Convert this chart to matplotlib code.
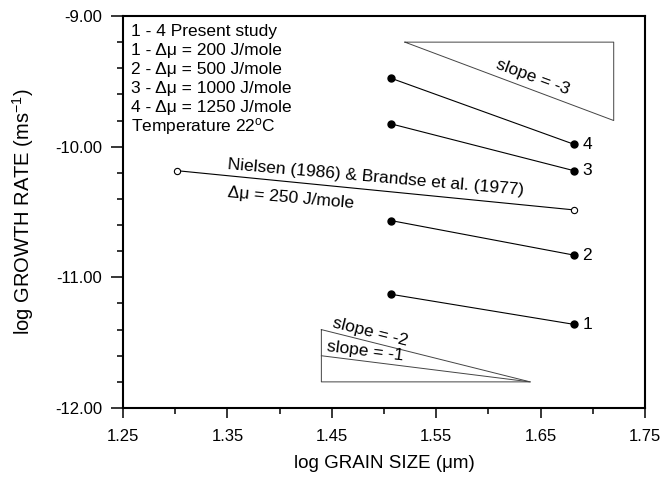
import matplotlib
matplotlib.use("Agg")
import matplotlib.pyplot as plt
from matplotlib.ticker import MultipleLocator, FixedLocator

plt.rcParams['font.family'] = ['Liberation Sans', 'DejaVu Sans']
plt.rcParams['mathtext.fontset'] = 'custom'
plt.rcParams['mathtext.rm'] = 'Liberation Sans'
plt.rcParams['mathtext.it'] = 'Liberation Sans:italic'

# log grain size (um) at the two measured sizes
grain_size = [1.507, 1.682]
# log growth rate for each driving force
rate_1 = [-11.13, -11.36]   # 200 J/mole
rate_2 = [-10.566, -10.83]  # 500 J/mole
rate_3 = [-9.826, -10.184]  # 1000 J/mole
rate_4 = [-9.477, -9.982]   # 1250 J/mole
series_labels = ["1", "2", "3", "4"]

# literature line (Nielsen 1986, Brandse et al. 1977)
lit_size = [1.302, 1.682]
lit_rate = [-10.184, -10.484]

# slope reference triangles
tri3_x = [1.52, 1.72, 1.72, 1.52]
tri3_y = [-9.2, -9.2, -9.8, -9.2]
tri12_x = [1.44, 1.44, 1.64, 1.44]
tri12_y = [-11.4, -11.8, -11.8, -11.4]
slope1_x = [1.44, 1.64]
slope1_y = [-11.6, -11.8]

fig = plt.figure(figsize=(6.63, 4.79), dpi=100)
ax = fig.add_axes([0.1855, 0.1482, 0.7874, 0.8184])

ink = "black"
for ys, lab in zip([rate_1, rate_2, rate_3, rate_4], series_labels):
    ax.plot(grain_size, ys, color=ink, lw=0.8, marker="o", ms=5,
            markerfacecolor=ink, markeredgecolor=ink)
    ax.annotate(lab, (grain_size[1], ys[1]), xytext=(6, 0),
                textcoords="offset points", va="center", ha="left",
                fontsize=12.5)

ax.plot(lit_size, lit_rate, color=ink, lw=0.8, marker="o", ms=4.5,
        markerfacecolor="white", markeredgecolor=ink, markeredgewidth=0.8)

tri_color = "#444444"
ax.plot(tri3_x, tri3_y, color=tri_color, lw=0.7)
ax.plot(tri12_x, tri12_y, color=tri_color, lw=0.7)
ax.plot(slope1_x, slope1_y, color=tri_color, lw=0.7)

ax.text(1.642, -9.467, "slope = -3", rotation=-20, ha="center", va="center",
        fontsize=12.5, rotation_mode="anchor")
ax.text(1.487, -11.42, "slope = -2", rotation=-14, ha="center", va="center",
        fontsize=12.5, rotation_mode="anchor")
ax.text(1.482, -11.565, "slope = -1", rotation=-7, ha="center", va="center",
        fontsize=12.5, rotation_mode="anchor")

ax.text(1.350, -10.14, "Nielsen (1986) & Brandse et al. (1977)", rotation=-5,
        ha="left", va="center", fontsize=12.5, rotation_mode="anchor")
ax.text(1.350, -10.35, "\u0394\u03bc = 250 J/mole", rotation=-5,
        ha="left", va="center", fontsize=12.5, rotation_mode="anchor")

key_lines = [
    "1 - 4 Present study",
    "1 - \u0394\u03bc = 200 J/mole",
    "2 - \u0394\u03bc = 500 J/mole",
    "3 - \u0394\u03bc = 1000 J/mole",
    "4 - \u0394\u03bc = 1250 J/mole",
    "Temperature 22$^{\\mathrm{o}}$C",
]
for i, line in enumerate(key_lines):
    ax.text(0.016, 0.96 - i * 0.0485, line, transform=ax.transAxes,
            ha="left", va="center", fontsize=12.5)

ax.set_xlim(1.25, 1.75)
ax.set_ylim(-12.0, -9.0)
ax.xaxis.set_major_locator(FixedLocator([1.25, 1.35, 1.45, 1.55, 1.65, 1.75]))
ax.xaxis.set_minor_locator(FixedLocator([1.30, 1.40, 1.50, 1.60, 1.70]))
ax.yaxis.set_major_locator(MultipleLocator(1.0))
ax.yaxis.set_minor_locator(MultipleLocator(0.2))
ax.xaxis.set_major_formatter(plt.FormatStrFormatter("%.2f"))
ax.yaxis.set_major_formatter(plt.FormatStrFormatter("%.2f"))

for s in ax.spines.values():
    s.set_linewidth(1.5)
ax.tick_params(axis="x", which="major", direction="out", length=7, width=1.1,
               labelsize=12, pad=8)
ax.tick_params(axis="x", which="minor", direction="out", length=4.5, width=1.1)
ax.tick_params(axis="y", which="major", direction="out", length=9, width=1.1,
               labelsize=12, pad=6)
ax.tick_params(axis="y", which="minor", direction="out", length=4.5, width=1.1)

ax.set_xlabel("log GRAIN SIZE (\u03bcm)", fontsize=13.5, labelpad=8)
ax.set_ylabel("log GROWTH RATE (ms$^{\\mathrm{-1}}$)", fontsize=14.5, labelpad=14)

fig.savefig("out.png", dpi=100)
